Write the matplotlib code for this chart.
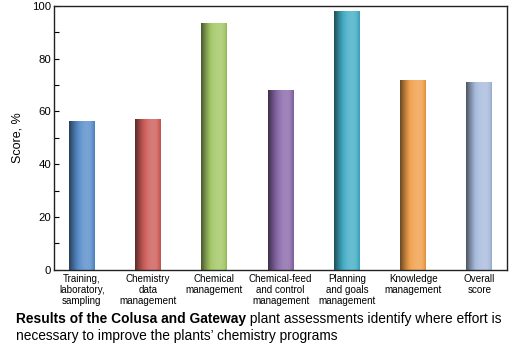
import numpy as np
import matplotlib.pyplot as plt
import matplotlib.colors as mcolors
from matplotlib.ticker import MultipleLocator

plt.rcParams["font.family"] = ["Liberation Sans", "DejaVu Sans"]

# --------------------------------------------------
# Data
# --------------------------------------------------

categories = [
    "Training,\nlaboratory,\nsampling",
    "Chemistry\ndata\nmanagement",
    "Chemical\nmanagement",
    "Chemical-feed\nand control\nmanagement",
    "Planning\nand goals\nmanagement",
    "Knowledge\nmanagement",
    "Overall\nscore",
]
scores = [56.5, 57, 93.5, 68, 98, 72, 71]
bar_colors = ["#5a8ecb", "#cd5f5a", "#a3c766", "#8a6aaa", "#45aec6", "#f0a04c", "#a9bcdd"]

# --------------------------------------------------
# Figure
# --------------------------------------------------

fig = plt.figure(figsize=(5.24, 3.46), dpi=100)
ax = fig.add_axes([0.103, 0.22, 0.865, 0.763])

x = np.arange(len(categories))
width = 0.39

# shading profile across a bar: dark left edge, highlight right of centre
u = np.linspace(0, 1, 60)
shade = 0.45 + 0.75 * np.sin(np.clip(u * 1.15, 0, 1) * np.pi * 0.62) - 0.25 * np.clip((u - 0.85) / 0.15, 0, 1)

for xi, s, c in zip(x, scores, bar_colors):
    base = np.array(mcolors.to_rgb(c))
    rows = []
    for k in shade:
        if k < 1:
            rows.append(base * k)
        else:
            rows.append(base + (1 - base) * (k - 1) * 0.9)
    img = np.clip(np.array(rows), 0, 1)[None, :, :]
    bar = ax.bar(xi, s, width=width, color="none", edgecolor="none", zorder=2)[0]
    im = ax.imshow(img, extent=[xi - width / 2, xi + width / 2, 0, s],
                   aspect="auto", zorder=2, interpolation="bilinear")
    im.set_clip_path(bar)

ax.set_xlim(-0.42, 6.42)
ax.set_ylim(0, 100)
ax.set_xticks(x)
ax.set_xticklabels(categories, fontsize=7.1, linespacing=1.15)
ax.tick_params(axis="x", length=0, pad=3)

ax.yaxis.set_major_locator(MultipleLocator(20))
ax.yaxis.set_minor_locator(MultipleLocator(10))
ax.tick_params(axis="y", which="both", direction="in", length=3.6, width=0.8, labelsize=8.2, pad=2)
ax.set_ylabel("Score, %", fontsize=9, labelpad=6)

for sp in ax.spines.values():
    sp.set_linewidth(1.0)
    sp.set_color("#222222")

# --------------------------------------------------
# Caption
# --------------------------------------------------

t1 = fig.text(16 / 524, 1 - 326 / 346, "Results of the Colusa and Gateway",
              fontsize=9.9, fontweight="bold", va="bottom", ha="left")
ax.annotate(" plant assessments identify where effort is", xy=(1, 0), xycoords=t1,
            fontsize=9.9, va="bottom", ha="left", annotation_clip=False)
fig.text(16 / 524, 1 - 343 / 346, "necessary to improve the plants\u2019 chemistry programs",
         fontsize=9.9, va="bottom", ha="left")

plt.savefig("out.png", dpi=100)
plt.close()
